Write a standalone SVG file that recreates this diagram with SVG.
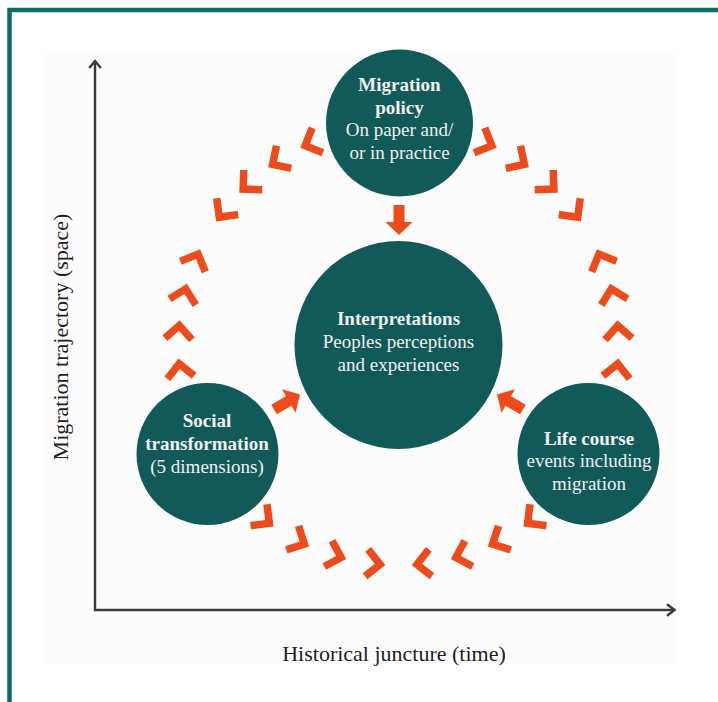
<svg xmlns="http://www.w3.org/2000/svg" xmlns:xlink="http://www.w3.org/1999/xlink" width="718" height="702" viewBox="0 0 718 702">
  <style>
    .frame { fill: none; stroke: #0c6b66; stroke-width: 4.5; }
    .panel { fill: #fcfcfc; }
    .axis { fill: none; stroke: #3a3a3a; stroke-width: 2.4; stroke-linecap: square; }
    .axis-label { font-family: "Liberation Serif", "Times New Roman", serif; font-size: 22px; fill: #1e1e1e; text-anchor: middle; }
    .node { fill: #115a59; }
    .node-text { font-family: "Liberation Serif", "Times New Roman", serif; font-size: 19px; fill: #f1f1ee; text-anchor: middle; }
    .title { font-weight: bold; }
    .chev { fill: none; stroke: #ef4a1b; stroke-width: 7.5; stroke-linejoin: miter; stroke-linecap: butt; }
    .block { fill: #ef4a1b; }
  </style>
  <defs>
    <!-- right-angle chevron, pointing along +x -->
    <path id="chev" class="chev" d="M-7,-13.5 L6.5,0 L-7,13.5"/>
    <!-- solid block arrow, pointing along +x -->
    <path id="block" class="block" d="M-15,-5.5 H2 V-13.5 L15,0 L2,13.5 V5.5 H-15 Z"/>
  </defs>

  <rect width="718" height="702" fill="#ffffff"/>
  <!-- teal frame: top and left edges -->
  <path class="frame" d="M9.5,702 V10 H718"/>
  <rect class="panel" x="45" y="52" width="630" height="613"/>

  <!-- axes -->
  <g id="axes">
    <path class="axis" d="M95,62 V610 H674"/>
    <polyline class="axis" points="90,67 95,61 100,67"/>
    <polyline class="axis" points="668,605 674.5,610 668,615"/>
    <text class="axis-label" transform="translate(68 337) rotate(-90)">Migration trajectory (space)</text>
    <text class="axis-label" x="394" y="661">Historical juncture (time)</text>
  </g>

  <!-- connectors: chevron cycle (ring of radius 220 round the centre) and block arrows -->
  <g id="connectors">
    <g id="cycle" transform="translate(398.5 345)">
      <!-- policy to social arc -->
      <use xlink:href="#chev" transform="rotate(-113.4) translate(220 0) rotate(-90)"/>
      <use xlink:href="#chev" transform="rotate(-123.2) translate(220 0) rotate(-90)"/>
      <use xlink:href="#chev" transform="rotate(-133.2) translate(220 0) rotate(-90)"/>
      <use xlink:href="#chev" transform="rotate(-142.8) translate(220 0) rotate(-90)"/>
      <use xlink:href="#chev" transform="rotate(-157.3) translate(220 0) rotate(90)"/>
      <use xlink:href="#chev" transform="rotate(-166.9) translate(220 0) rotate(90)"/>
      <use xlink:href="#chev" transform="rotate(-176.6) translate(220 0) rotate(90)"/>
      <use xlink:href="#chev" transform="rotate(-186.6) translate(220 0) rotate(90)"/>
      <!-- policy to life course arc -->
      <use xlink:href="#chev" transform="rotate(-66.6) translate(220 0) rotate(90)"/>
      <use xlink:href="#chev" transform="rotate(-56.8) translate(220 0) rotate(90)"/>
      <use xlink:href="#chev" transform="rotate(-46.8) translate(220 0) rotate(90)"/>
      <use xlink:href="#chev" transform="rotate(-37.2) translate(220 0) rotate(90)"/>
      <use xlink:href="#chev" transform="rotate(-22.7) translate(220 0) rotate(-90)"/>
      <use xlink:href="#chev" transform="rotate(-13.1) translate(220 0) rotate(-90)"/>
      <use xlink:href="#chev" transform="rotate(-3.4) translate(220 0) rotate(-90)"/>
      <use xlink:href="#chev" transform="rotate(6.6) translate(220 0) rotate(-90)"/>
      <!-- social to life course arc -->
      <use xlink:href="#chev" transform="rotate(127.6) translate(220 0) rotate(-90)"/>
      <use xlink:href="#chev" transform="rotate(117) translate(220 0) rotate(-90)"/>
      <use xlink:href="#chev" transform="rotate(106.8) translate(220 0) rotate(-90)"/>
      <use xlink:href="#chev" transform="rotate(96.5) translate(220 0) rotate(-90)"/>
      <use xlink:href="#chev" transform="rotate(83.5) translate(220 0) rotate(90)"/>
      <use xlink:href="#chev" transform="rotate(73.2) translate(220 0) rotate(90)"/>
      <use xlink:href="#chev" transform="rotate(63) translate(220 0) rotate(90)"/>
      <use xlink:href="#chev" transform="rotate(52.4) translate(220 0) rotate(90)"/>
    </g>
    <g id="arrows">
      <use xlink:href="#block" transform="translate(399 220) rotate(90)"/>
      <use xlink:href="#block" transform="translate(287 402) rotate(-30)"/>
      <use xlink:href="#block" transform="translate(510 402) rotate(-150)"/>
    </g>
  </g>

  <g id="policy">
    <circle class="node" cx="399.5" cy="123" r="73.5"/>
    <text class="node-text title" x="399.5" y="91">Migration</text>
    <text class="node-text title" x="399.5" y="113.5">policy</text>
    <text class="node-text" x="399.5" y="136">On paper and/</text>
    <text class="node-text" x="399.5" y="158.5">or in practice</text>
  </g>

  <g id="interpretations">
    <circle class="node" cx="398.5" cy="345" r="104"/>
    <text class="node-text title" x="398.5" y="325">Interpretations</text>
    <text class="node-text" x="398.5" y="348">Peoples perceptions</text>
    <text class="node-text" x="398.5" y="371">and experiences</text>
  </g>

  <g id="social">
    <circle class="node" cx="207.5" cy="454" r="71"/>
    <text class="node-text title" x="207" y="427">Social</text>
    <text class="node-text title" x="207" y="450">transformation</text>
    <text class="node-text" x="207" y="473">(5 dimensions)</text>
  </g>

  <g id="life-course">
    <circle class="node" cx="588.5" cy="454" r="71"/>
    <text class="node-text title" x="589" y="445">Life course</text>
    <text class="node-text" x="589" y="467">events including</text>
    <text class="node-text" x="589" y="490">migration</text>
  </g>
</svg>
